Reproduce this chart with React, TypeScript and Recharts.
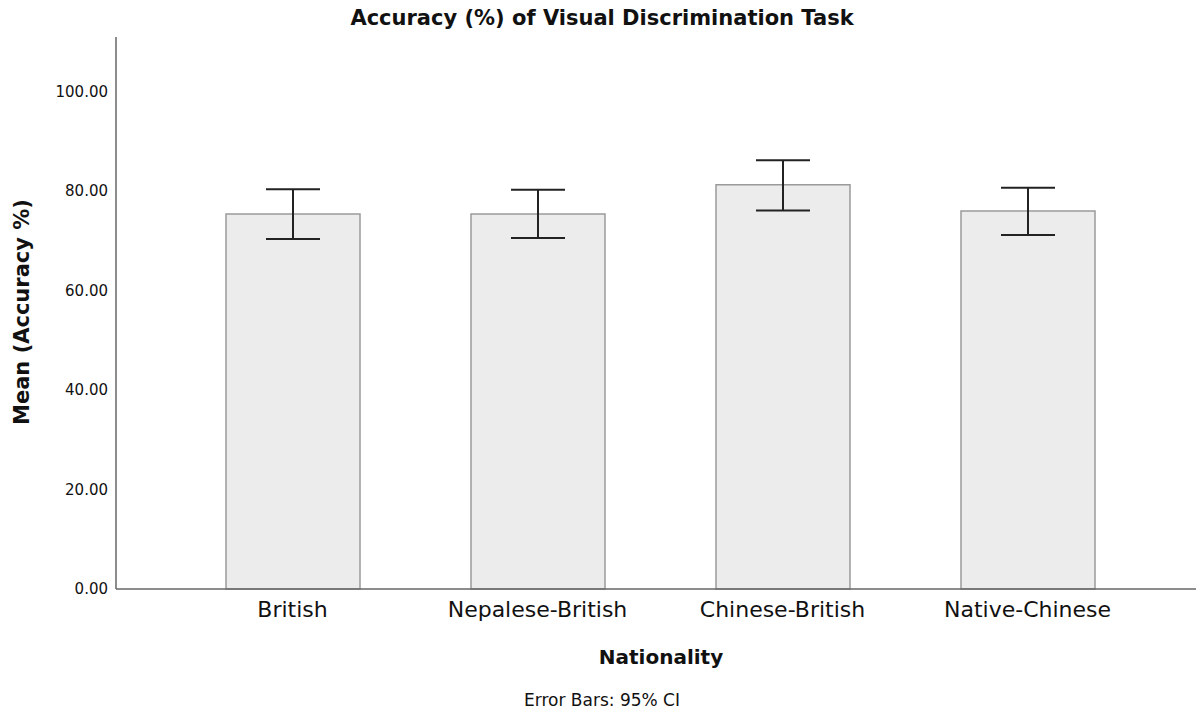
import { BarChart, Bar, XAxis, YAxis, ErrorBar } from 'recharts';

const groups = ['British', 'Nepalese-British', 'Chinese-British', 'Native-Chinese'];
const means = [75.4, 75.4, 81.3, 76.0];
const ciLow = [70.4, 70.6, 76.1, 71.2];
const ciHigh = [80.4, 80.3, 86.2, 80.7];
const yTicks = [0, 20, 40, 60, 80, 100];

const data = groups.map((g, i) => ({
  group: g,
  mean: means[i],
  ci: [means[i] - ciLow[i], ciHigh[i] - means[i]],
}));

const font = '"DejaVu Sans", "Open Sans", sans-serif';

export default function App() {
  return (
    <div style={{ position: 'absolute', left: 0, top: 0, width: 1196, height: 710, background: '#fff', fontFamily: font }}>
      <div
        style={{
          position: 'absolute', left: 602, top: 18, transform: 'translate(-50%, -50%)',
          fontSize: 21, fontWeight: 'bold', color: '#111', whiteSpace: 'nowrap',
        }}
      >
        Accuracy (%) of Visual Discrimination Task
      </div>
      <BarChart
        width={1196}
        height={710}
        data={data}
        margin={{ top: 37, right: 0, bottom: 91, left: 56 }}
        barSize={134}
      >
        <XAxis
          dataKey="group"
          height={30}
          padding={{ left: 54, right: 46 }}
          tickLine={false}
          tickSize={0}
          tickMargin={12}
          axisLine={{ stroke: '#666', strokeWidth: 1.5 }}
          tick={{ fontSize: 22, fill: '#111', fontFamily: font }}
        />
        <YAxis
          width={60}
          domain={[0, 111]}
          ticks={yTicks}
          tickFormatter={(v: number) => v.toFixed(2)}
          tickLine={false}
          tickSize={0}
          tickMargin={8}
          axisLine={{ stroke: '#666', strokeWidth: 1.5 }}
          tick={{ fontSize: 15, fill: '#111', fontFamily: font }}
        />
        <Bar dataKey="mean" fill="#ececec" stroke="#9a9a9a" strokeWidth={1.5} isAnimationActive={false}>
          <ErrorBar dataKey="ci" width={27} stroke="#222" strokeWidth={2} direction="y" />
        </Bar>
      </BarChart>
      <div
        style={{
          position: 'absolute', left: 22, top: 312, transform: 'translate(-50%, -50%) rotate(-90deg)',
          fontSize: 21, fontWeight: 'bold', color: '#111', whiteSpace: 'nowrap',
        }}
      >
        Mean (Accuracy %)
      </div>
      <div
        style={{
          position: 'absolute', left: 661, top: 657, transform: 'translate(-50%, -50%)',
          fontSize: 20, fontWeight: 'bold', color: '#111', whiteSpace: 'nowrap',
        }}
      >
        Nationality
      </div>
      <div
        style={{
          position: 'absolute', left: 602, top: 700, transform: 'translate(-50%, -50%)',
          fontSize: 17, color: '#111', whiteSpace: 'nowrap',
        }}
      >
        Error Bars: 95% CI
      </div>
    </div>
  );
}
